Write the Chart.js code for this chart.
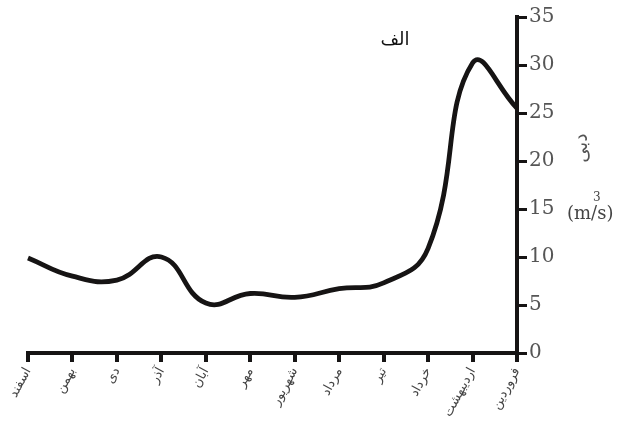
<!DOCTYPE html>
<html>
<head>
<meta charset="utf-8">
<script src="https://cdn.jsdelivr.net/npm/chart.js@4/dist/chart.umd.min.js"></script>
<style>
  html, body { margin: 0; padding: 0; background: #ffffff; }
  #wrap { width: 628px; height: 443px; }
</style>
</head>
<body>
<div id="wrap"><canvas id="c" width="628" height="443"></canvas></div>
<script>
// Persian months, فروردین first; the axis runs right-to-left
const months = ['فروردین', 'اردیبهشت', 'خرداد', 'تیر', 'مرداد', 'شهریور', 'مهر', 'آبان', 'آذر', 'دی', 'بهمن', 'اسفند'];
// monthly discharge (m³/s)
const discharge = [25.5, 30.2, 10.9, 7.3, 6.7, 5.8, 6.2, 5.2, 10.0, 7.6, 8.0, 9.9];
const yTicks = [0, 5, 10, 15, 20, 25, 30, 35];
const chartTitle = 'الف';
const axisTitle = 'دبی';
const unitText = '(m/s)';

const INK = '#161414';

const labelsPlugin = {
  id: 'labelsPlugin',
  afterDraw(chart) {
    const ctx = chart.ctx;
    ctx.save();
    ctx.fillStyle = '#111';
    ctx.font = '18px "DejaVu Sans"';
    ctx.textAlign = 'center';
    ctx.textBaseline = 'middle';
    ctx.fillText(chartTitle, 395, 40);

    // vertical axis title
    ctx.fillStyle = '#555';
    ctx.font = '19px "DejaVu Sans"';
    ctx.translate(582, 148);
    ctx.rotate(-Math.PI / 2);
    ctx.fillText(axisTitle, 0, 0);
    ctx.restore();

    ctx.save();
    ctx.fillStyle = '#444';
    ctx.font = '18px "DejaVu Serif"';
    ctx.textAlign = 'left';
    ctx.textBaseline = 'middle';
    ctx.fillText(unitText, 567, 214);
    ctx.font = '12px "DejaVu Serif"';
    ctx.fillText('3', 593, 198);
    ctx.restore();
  }
};

new Chart(document.getElementById('c'), {
  type: 'line',
  data: {
    labels: months,
    datasets: [{
      data: discharge,
      borderColor: INK,
      borderWidth: 4.8,
      pointRadius: 0,
      tension: 0.45,
      fill: false
    }]
  },
  options: {
    responsive: false,
    animation: false,
    layout: { padding: { left: 28, top: 17, right: 0, bottom: 0 } },
    plugins: { legend: { display: false }, tooltip: { enabled: false }, title: { display: false } },
    scales: {
      x: {
        type: 'category',
        reverse: true,
        offset: false,
        border: { display: true, color: INK, width: 4 },
        grid: { drawOnChartArea: false, drawTicks: true, tickLength: 9, color: INK, lineWidth: 4 },
        ticks: {
          autoSkip: false,
          minRotation: 62,
          maxRotation: 62,
          padding: 3,
          color: '#444',
          font: { family: 'DejaVu Sans', size: 13 }
        },
        afterFit(scale) {
          scale.height = 90;
          scale.paddingLeft = 0;
          scale.paddingRight = 0;
        }
      },
      y: {
        position: 'right',
        min: 0,
        max: 35,
        afterBuildTicks(scale) {
          scale.ticks = yTicks.map(v => ({ value: v }));
        },
        border: { display: true, color: INK, width: 4 },
        grid: { drawOnChartArea: false, drawTicks: true, tickLength: 10, color: INK, lineWidth: 3 },
        ticks: {
          padding: 2,
          color: '#555',
          font: { family: 'DejaVu Serif', size: 20 }
        },
        afterFit(scale) {
          scale.width = 111;
          scale.paddingTop = 0;
          scale.paddingBottom = 0;
        }
      }
    }
  },
  plugins: [labelsPlugin]
});
</script>
</body>
</html>
